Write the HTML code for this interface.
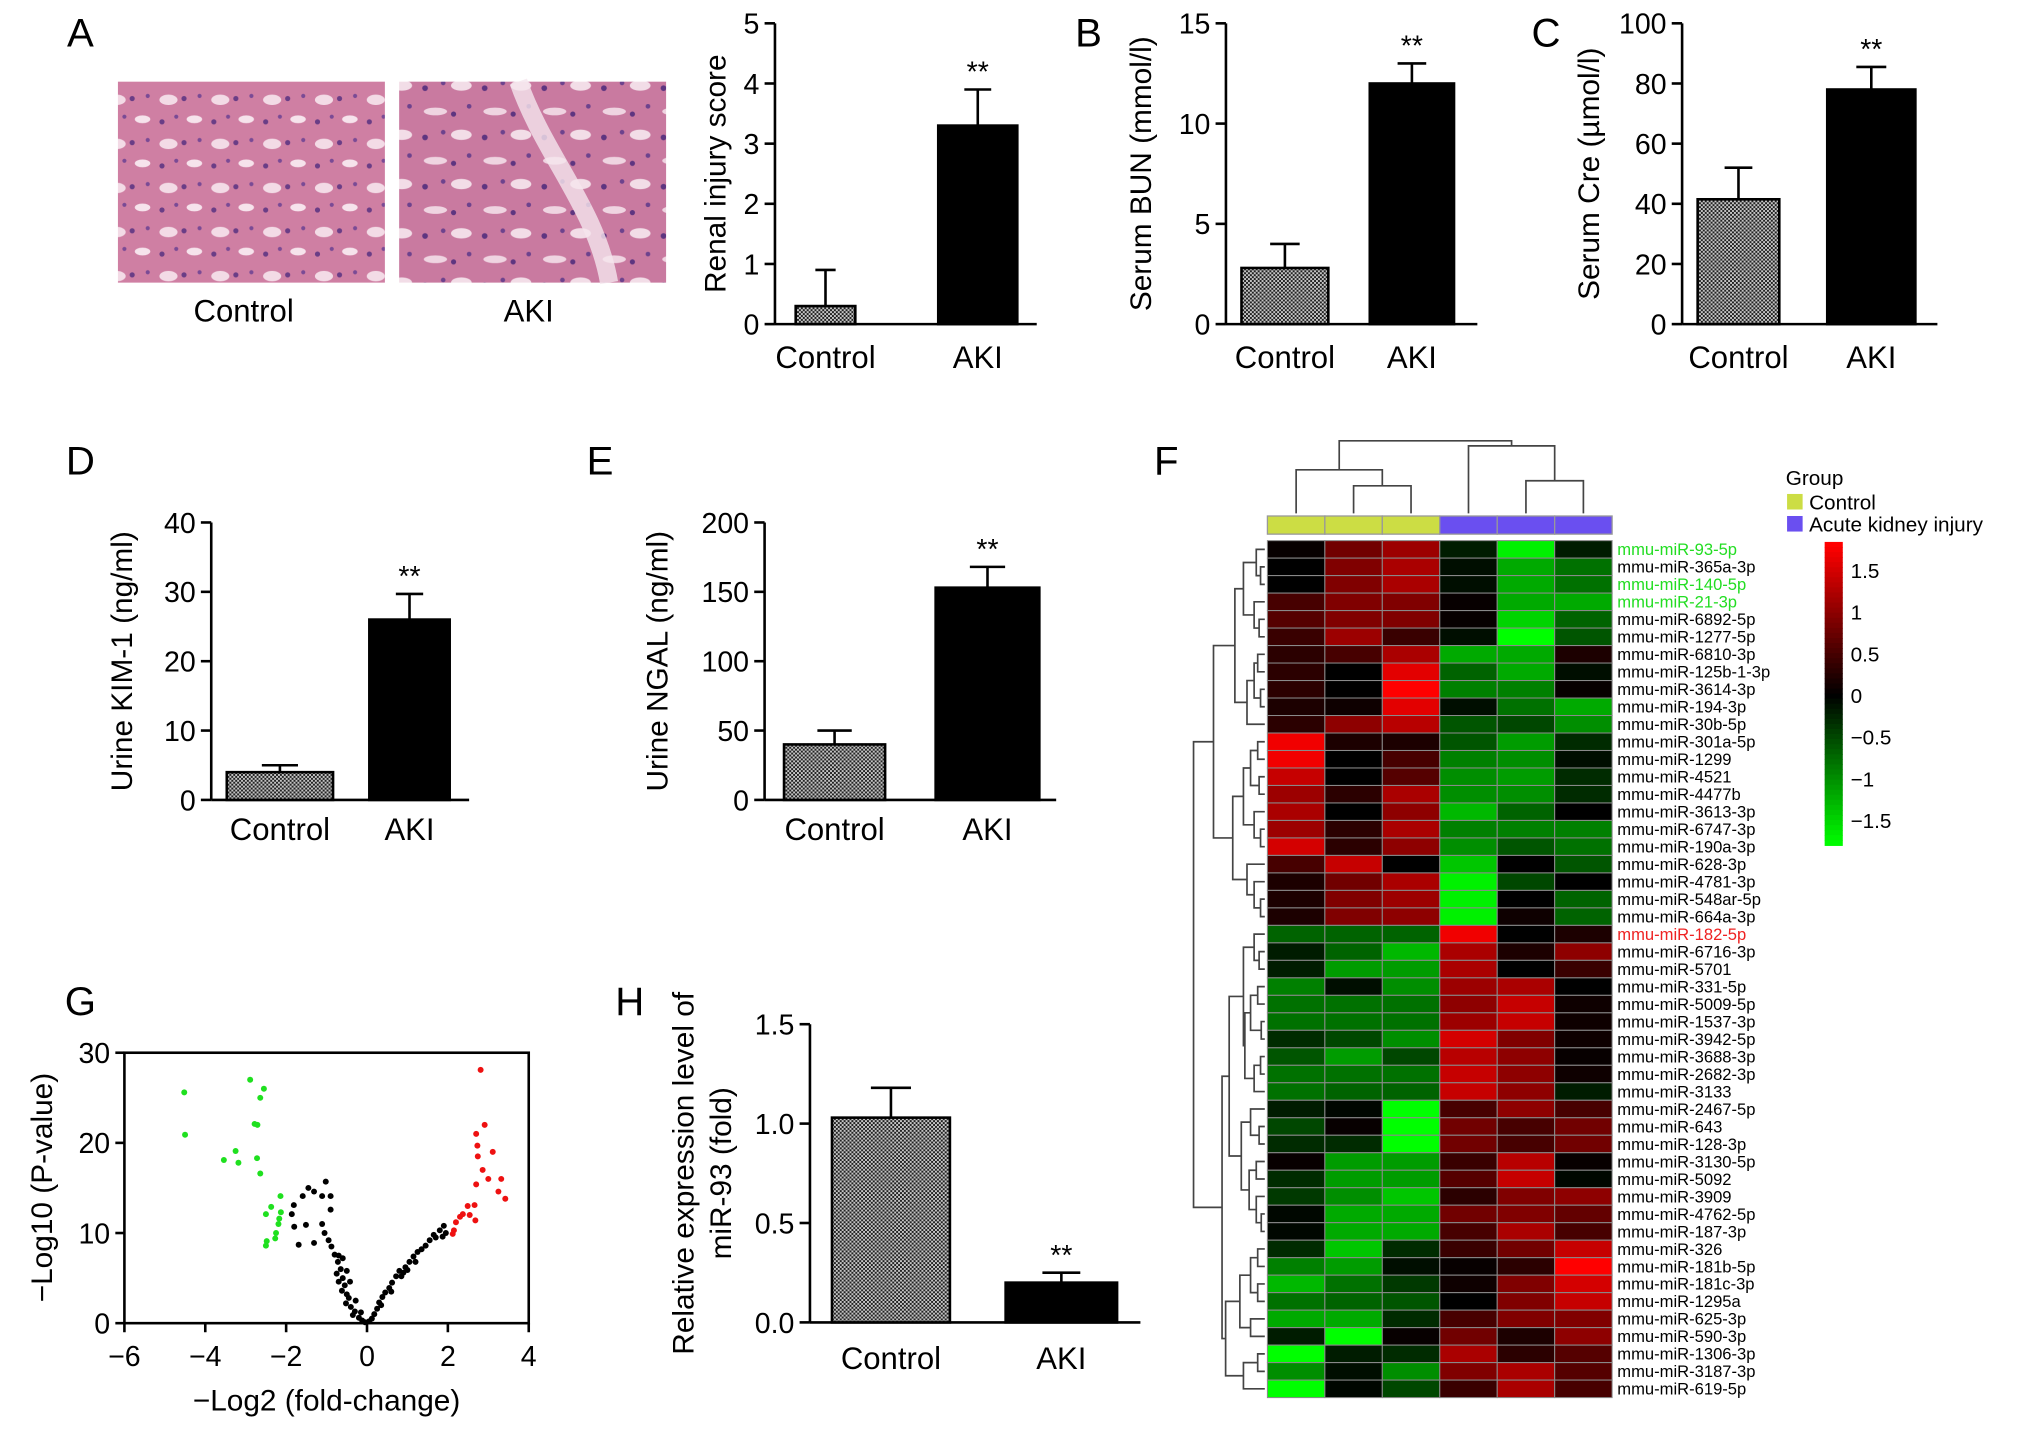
<!DOCTYPE html>
<html><head><meta charset="utf-8">
<style>
html,body{margin:0;padding:0;background:#fff;}
svg{display:block;font-family:"Liberation Sans",Arial,sans-serif;}
</style></head>
<body>
<svg id="fig" xmlns="http://www.w3.org/2000/svg" width="2032" height="1430" viewBox="0 0 1568 1103" preserveAspectRatio="none">
<defs>
<pattern id="hatch" width="3" height="3" patternUnits="userSpaceOnUse">
<rect width="3" height="3" fill="#c4c4c4"/>
<rect width="1.5" height="1.5" fill="#222"/>
<rect x="1.5" y="1.5" width="1.5" height="1.5" fill="#222"/>
</pattern>
<pattern id="tissue1" width="40" height="34" patternUnits="userSpaceOnUse">
<rect width="40" height="34" fill="#cf7fa3"/>
<ellipse cx="10" cy="9" rx="7" ry="4" fill="#f3dbe6"/>
<ellipse cx="30" cy="24" rx="6" ry="3" fill="#f6e3ec"/>
<circle cx="22" cy="8" r="2" fill="#6a3d86"/>
<circle cx="5" cy="26" r="2" fill="#6a3d86"/>
<circle cx="34" cy="6" r="1.6" fill="#7a4a95"/>
<circle cx="16" cy="22" r="1.6" fill="#7a4a95"/>
</pattern>
<pattern id="tissue2" width="46" height="38" patternUnits="userSpaceOnUse">
<rect width="46" height="38" fill="#c97aa0"/>
<ellipse cx="14" cy="10" rx="9" ry="3" fill="#efd4e1"/>
<ellipse cx="34" cy="28" rx="8" ry="4" fill="#f2dde7"/>
<circle cx="6" cy="30" r="2.2" fill="#5e3580"/>
<circle cx="28" cy="12" r="2" fill="#5e3580"/>
<circle cx="40" cy="6" r="1.8" fill="#6d428d"/>
<circle cx="20" cy="26" r="1.8" fill="#6d428d"/>
</pattern>
</defs>
<g id="root"></g>
</svg>
<script>
// ---------- data ----------
const barCategories = ["Control","AKI"];
const aValues = [0.3, 3.3];
const aErrors = [0.6, 0.6];
const aTicks = [0,1,2,3,4,5];
const bValues = [2.8, 12.0];
const bErrors = [1.2, 1.0];
const bTicks = [0,5,10,15];
const cValues = [41.5, 78];
const cErrors = [10.5, 7.5];
const cTicks = [0,20,40,60,80,100];
const dValues = [4, 26];
const dErrors = [1, 3.7];
const dTicks = [0,10,20,30,40];
const eValues = [40, 153];
const eErrors = [10, 15];
const eTicks = [0,50,100,150,200];
const hValues = [1.03, 0.2];
const hErrors = [0.15, 0.05];
const hTicks = [0.0,0.5,1.0,1.5];
const hTickLabels = ["0.0","0.5","1.0","1.5"];

const volcanoXTicks = [-6,-4,-2,0,2,4];
const volcanoYTicks = [0,10,20,30];
const greenX = [-4.52,-4.5,-2.89,-2.55,-2.64,-2.78,-2.71,-3.25,-3.54,-3.18,-2.72,-2.64,-2.14,-2.37,-2.5,-2.13,-2.17,-2.19,-2.25,-2.27,-2.48,-2.5];
const greenY = [25.6,20.9,27.0,26.0,25.0,22.1,22.0,19.1,18.1,17.8,18.3,16.6,14.1,12.9,12.1,12.3,11.6,11.0,10.0,9.4,9.1,8.6];
const redX = [2.81,2.91,2.70,2.73,2.74,3.11,2.86,3.0,3.32,2.70,3.25,3.42,2.49,2.66,2.37,2.54,2.68,2.2,2.15,2.12,2.3];
const redY = [28.1,22.0,21.0,19.7,18.5,19.0,17.0,16.0,16.0,15.4,14.6,13.8,13.0,13.1,12.1,12.0,11.4,11.2,10.3,9.9,11.8];
const blackX = [-1.02,-1.45,-1.31,-1.59,-1.11,-0.9,-1.81,-0.9,-1.86,-1.8,-1.51,-1.11,-1.69,-1.31,
 -1.05,-0.95,-0.88,-0.8,-0.7,-0.72,-0.65,-0.75,-0.6,-0.7,-0.55,-0.62,-0.5,-0.45,-0.52,-0.4,-0.3,-0.35,-0.2,-0.12,-0.05,-0.6,-0.5,-0.42,-0.28,-0.15,
 0.05,0.12,0.18,0.25,0.3,0.38,0.45,0.55,0.62,0.72,0.8,0.85,0.95,1.05,1.15,1.25,1.35,1.45,1.55,1.65,1.8,1.9,1.7,1.2,0.6,0.35,0.9,1.0,1.87,1.95];
const blackY = [15.7,15.0,14.6,14.1,14.1,14.1,13.1,12.6,12.1,10.7,10.9,11.0,8.7,8.9,
 10.0,9.2,8.5,7.6,7.5,6.8,6.0,5.5,5.0,4.6,4.2,3.6,3.2,2.8,2.2,1.8,1.3,0.9,0.6,0.3,0.1,7.2,5.8,4.6,2.5,1.2,
 0.2,0.5,1.0,1.6,2.3,2.9,3.4,3.9,4.5,5.2,5.8,5.2,6.2,6.8,7.4,7.9,8.2,8.6,9.2,9.8,10.3,10.8,9.5,6.8,3.5,2.0,5.6,5.9,9.6,10.0];

const heatLabels = ["mmu-miR-93-5p","mmu-miR-365a-3p","mmu-miR-140-5p","mmu-miR-21-3p","mmu-miR-6892-5p","mmu-miR-1277-5p","mmu-miR-6810-3p","mmu-miR-125b-1-3p","mmu-miR-3614-3p","mmu-miR-194-3p","mmu-miR-30b-5p","mmu-miR-301a-5p","mmu-miR-1299","mmu-miR-4521","mmu-miR-4477b","mmu-miR-3613-3p","mmu-miR-6747-3p","mmu-miR-190a-3p","mmu-miR-628-3p","mmu-miR-4781-3p","mmu-miR-548ar-5p","mmu-miR-664a-3p","mmu-miR-182-5p","mmu-miR-6716-3p","mmu-miR-5701","mmu-miR-331-5p","mmu-miR-5009-5p","mmu-miR-1537-3p","mmu-miR-3942-5p","mmu-miR-3688-3p","mmu-miR-2682-3p","mmu-miR-3133","mmu-miR-2467-5p","mmu-miR-643","mmu-miR-128-3p","mmu-miR-3130-5p","mmu-miR-5092","mmu-miR-3909","mmu-miR-4762-5p","mmu-miR-187-3p","mmu-miR-326","mmu-miR-181b-5p","mmu-miR-181c-3p","mmu-miR-1295a","mmu-miR-625-3p","mmu-miR-590-3p","mmu-miR-1306-3p","mmu-miR-3187-3p","mmu-miR-619-5p"];
const heatGroups = ["control","control","control","aki","aki","aki"];
const heatValues = [
[0.05,0.8,1.1,-0.2,-1.7,-0.2],[0.0,0.9,1.2,-0.1,-1.2,-0.8],[0.0,0.9,1.2,-0.1,-1.2,-0.8],[0.5,0.9,0.9,0.05,-1.2,-1.2],
[0.6,0.9,0.9,0.05,-1.5,-0.7],[0.4,1.1,0.4,-0.1,-1.8,-0.6],[0.3,0.5,1.2,-1.2,-1.2,0.2],[0.3,0.0,1.6,-0.7,-1.2,-0.1],
[0.3,0.0,1.8,-0.9,-0.9,0.05],[0.2,0.1,1.6,-0.1,-0.8,-1.2],[0.3,1.0,1.3,-0.6,-0.5,-1.0],[1.7,0.2,0.2,-0.6,-1.1,-0.3],
[1.7,0.0,0.5,-0.9,-1.0,-0.1],[1.4,0.0,0.6,-1.0,-1.1,-0.3],[1.1,0.3,1.2,-1.0,-1.0,-0.3],[1.2,0.0,1.0,-1.3,-0.7,0.0],
[1.1,0.3,1.2,-0.9,-0.9,-0.9],[1.5,0.3,1.0,-1.0,-0.6,-0.8],[0.5,1.4,0.0,-1.4,0.0,-0.6],[0.2,0.8,1.2,-1.7,-0.5,0.0],
[0.2,0.9,1.1,-1.7,0.0,-0.7],[0.2,0.9,1.0,-1.7,0.1,-0.7],[-0.7,-0.7,-0.7,1.7,0.0,0.2],[-0.2,-0.7,-1.3,1.2,0.2,1.0],
[-0.2,-1.1,-1.1,1.2,0.0,0.4],[-0.9,-0.1,-1.0,1.1,1.2,0.0],[-0.8,-0.8,-0.8,1.0,1.4,0.1],[-0.8,-0.8,-0.8,1.1,1.4,0.1],
[-0.3,-0.5,-1.0,1.5,0.9,0.1],[-0.6,-1.1,-0.5,1.3,1.0,0.05],[-0.8,-0.8,-0.8,1.4,1.0,0.1],[-0.8,-0.7,-0.7,1.4,1.0,-0.2],
[-0.2,-0.05,-1.8,0.5,1.0,0.5],[-0.5,0.05,-1.8,0.8,0.5,0.8],[-0.3,-0.3,-1.8,0.8,0.5,0.8],[0.05,-1.1,-1.1,0.4,1.3,0.05],
[-0.3,-1.1,-1.1,0.6,1.4,-0.05],[-0.4,-1.0,-1.4,0.3,0.9,1.0],[-0.05,-1.2,-1.2,0.8,0.9,0.7],[-0.05,-1.2,-1.2,0.5,1.2,0.5],
[-0.3,-1.4,-0.3,0.4,0.8,1.4],[-0.9,-1.1,-0.1,0.05,0.3,1.8],[-1.3,-0.8,-0.4,0.1,0.9,1.5],[-0.8,-0.7,-0.6,0.0,0.9,1.4],
[-1.2,-1.2,-0.3,0.5,0.9,0.9],[-0.2,-1.8,0.05,0.8,0.2,1.0],[-1.8,-0.2,-0.3,1.2,0.3,0.6],[-1.0,-0.1,-1.0,0.9,1.2,0.6],
[-1.8,-0.05,-0.5,0.4,1.2,0.5]];
const greenLabelRows = [0,2,3];
const redLabelRows = [22];
const colorbarTicks = [1.5,1,0.5,0,-0.5,-1,-1.5];
const colorbarTickLabels = ["1.5","1","0.5","0","\u22120.5","\u22121","\u22121.5"];

// ---------- helpers ----------
const NS = "http://www.w3.org/2000/svg";
const root = document.getElementById("root");
function el(tag, attrs, parent, text){
  const e = document.createElementNS(NS, tag);
  for (const k in attrs) e.setAttribute(k, attrs[k]);
  if (text !== undefined) e.textContent = text;
  (parent || root).appendChild(e);
  return e;
}
function grp(name){
  const g = el("g", {});
  
  
  return g;
}
function label(parent, x, y, txt, size, name, anchor, extra){
  const t = el("text", Object.assign({x:x, y:y, "font-size":size, "text-anchor":anchor||"middle", fill:"#000"}, extra||{}), parent, txt);
  
  
  return t;
}

// panel letters
[["A",62,36],["B",840,36],["C",1193,36],["D",62,366],["E",463,366],["F",900,366],["G",62,783],["H",486,783]].forEach(p=>{
  const t = label(root, p[1], p[2], p[0], 31, "panel-letter-"+p[0].toLowerCase());
});

// histology images
(function(){
  const g = grp("histology-images");
  const r1 = el("rect",{x:91,y:63,width:206,height:155,fill:"url(#tissue1)"},g);
  
  
  const r2 = el("rect",{x:308,y:63,width:206,height:155,fill:"url(#tissue2)"},g);
  
  
  el("path",{d:"M400 63 C 420 120, 460 160, 470 218",stroke:"#f5e6ee","stroke-width":14,fill:"none",opacity:0.8},g);
  label(g,188,248,"Control",24,"control-image-label");
  label(g,408,248,"AKI",24,"aki-image-label");
})();

// bar chart
function barChart(cfg, values, errors, ticks, tickLabels){
  const g = grp(cfg.name);
  const max = ticks[ticks.length-1];
  const yS = v => cfg.bottom - (v/max)*(cfg.bottom-cfg.top);
  const ax = el("line",{x1:cfg.ax,y1:cfg.top,x2:cfg.ax,y2:cfg.bottom,stroke:"#000","stroke-width":2},g);
  
  
  const bx = el("line",{x1:cfg.ax,y1:cfg.bottom,x2:cfg.axEnd,y2:cfg.bottom,stroke:"#000","stroke-width":2},g);
  
  
  ticks.forEach((t,i)=>{
    const y = yS(t);
    el("line",{x1:cfg.ax-8,y1:y,x2:cfg.ax,y2:y,stroke:"#000","stroke-width":2},g);
    label(g,cfg.ax-12,y+8,tickLabels?tickLabels[i]:String(t),22,"y-tick-label","end");
  });
  values.forEach((v,i)=>{
    const x0 = cfg.bars[i][0], x1 = cfg.bars[i][1];
    const cx = (x0+x1)/2;
    const top = yS(v), etop = yS(v+errors[i]);
    const cap = (x1-x0)*0.17;
    el("line",{x1:cx,y1:top,x2:cx,y2:etop,stroke:"#000","stroke-width":2},g);
    el("line",{x1:cx-cap,y1:etop,x2:cx+cap,y2:etop,stroke:"#000","stroke-width":2},g);
    const b = el("rect",{x:x0,y:top,width:x1-x0,height:cfg.bottom-top,fill:i===0?"url(#hatch)":"#000",stroke:"#000","stroke-width":2},g);
    
    
    label(g,cx,cfg.labelY,barCategories[i],24,"x-tick-label");
    if (cfg.star===i) label(g,cx,etop-6,"**",22,"significance-marker");
  });
  const tl = cfg.titleLines;
  tl.forEach((line,k)=>{
    const tx = cfg.titleX + k*29, ty = cfg.titleY;
    label(g,tx,ty,line,23,"y-axis-title","middle",{transform:"rotate(-90 "+tx+" "+ty+")"});
  });
}
barChart({name:"renal-injury-chart",ax:598,axEnd:800,top:18,bottom:250,bars:[[614,660],[724,785]],labelY:284,star:1,titleX:560,titleY:134,titleLines:["Renal injury score"]},aValues,aErrors,aTicks);
barChart({name:"serum-bun-chart",ax:946,axEnd:1140,top:18,bottom:250,bars:[[958,1025],[1057,1122]],labelY:284,star:1,titleX:888,titleY:134,titleLines:["Serum BUN (mmol/l)"]},bValues,bErrors,bTicks);
barChart({name:"serum-cre-chart",ax:1298,axEnd:1495,top:18,bottom:250,bars:[[1310,1373],[1410,1478]],labelY:284,star:1,titleX:1234,titleY:134,titleLines:["Serum Cre (\u00b5mol/l)"]},cValues,cErrors,cTicks);
barChart({name:"urine-kim1-chart",ax:163,axEnd:362,top:403,bottom:617,bars:[[175,257],[285,347]],labelY:648,star:1,titleX:102,titleY:510,titleLines:["Urine KIM-1 (ng/ml)"]},dValues,dErrors,dTicks);
barChart({name:"urine-ngal-chart",ax:590,axEnd:815,top:403,bottom:617,bars:[[605,683],[722,802]],labelY:648,star:1,titleX:515,titleY:510,titleLines:["Urine NGAL (ng/ml)"]},eValues,eErrors,eTicks);
barChart({name:"mir93-expression-chart",ax:625,axEnd:880,top:790,bottom:1020,bars:[[642,733],[776,862]],labelY:1056,star:1,titleX:535,titleY:905,titleLines:["Relative expression level of","miR-93 (fold)"]},hValues,hErrors,hTicks,hTickLabels);

// volcano
(function(){
  const g = grp("volcano-plot");
  const L=96,R=408,T=812,B=1020.6;
  const xS = v => L + (v+6)/10*(R-L);
  const yS = v => B - v/30*(B-T);
  const frame = el("rect",{x:L,y:T,width:R-L,height:B-T,fill:"none",stroke:"#000","stroke-width":2},g);
  
  
  volcanoXTicks.forEach(t=>{
    el("line",{x1:xS(t),y1:B,x2:xS(t),y2:B+7,stroke:"#000","stroke-width":2},g);
    label(g,xS(t),B+33,t<0?"\u2212"+Math.abs(t):String(t),22,"x-tick-label");
  });
  volcanoYTicks.forEach(t=>{
    el("line",{x1:L-7,y1:yS(t),x2:L,y2:yS(t),stroke:"#000","stroke-width":2},g);
    label(g,L-11,yS(t)+8,String(t),22,"y-tick-label","end");
  });
  function pts(xs,ys,col,name){
    const pg = el("g",{},g);
    
    
    xs.forEach((x,i)=>{ el("circle",{cx:xS(x),cy:yS(ys[i]),r:2.3,fill:col},pg); });
  }
  pts(blackX,blackY,"#000","nonsignificant-points");
  pts(greenX,greenY,"#1fe01f","downregulated-points");
  pts(redX,redY,"#ee1111","upregulated-points");
  label(g,252,1088,"\u2212Log2 (fold-change)",23,"x-axis-title");
  label(g,40,916,"\u2212Log10 (P-value)",23,"y-axis-title","middle",{transform:"rotate(-90 40 916)"});
})();

// heatmap
(function(){
  const g = grp("heatmap");
  const X0=978, X1=1244, Y0=417, Y1=1078;
  const nC = 6, nR = heatLabels.length;
  const cw=(X1-X0)/nC, rh=(Y1-Y0)/nR;
  function col(v){
    const a = Math.min(1,Math.abs(v)/1.8);
    const c = Math.round(a*255);
    return v>=0 ? "rgb("+c+",0,0)" : "rgb(0,"+c+",0)";
  }
  heatGroups.forEach((gr,j)=>{
    const r = el("rect",{x:X0+j*cw,y:398,width:cw,height:14,fill:gr==="control"?"#ccdd44":"#6a4ff0",stroke:"#999","stroke-width":1},g);
    
    
  });
  heatValues.forEach((row,i)=>{
    row.forEach((v,j)=>{
      const r = el("rect",{x:X0+j*cw,y:Y0+i*rh,width:cw,height:rh,fill:col(v),stroke:"#8a8a8a","stroke-width":0.8},g);
      
      
    });
    let fill = "#000";
    if (greenLabelRows.indexOf(i)>=0) fill="#22dd22";
    if (redLabelRows.indexOf(i)>=0) fill="#ee2222";
    const t = el("text",{x:X1+4,y:Y0+(i+0.5)*rh+4.5,"font-size":12.8,fill:fill},g,heatLabels[i]);
    
    
  });
  // row dendrogram
  const N=(h,a,b)=>({h:h,c:[a,b]});
  const rowTree = N(1,
    N(.72,
      N(.42, N(.3, N(.12,0,N(.06,1,2)), N(.15,3,N(.08,4,5))), N(.25, N(.15,N(.1,6,7),N(.06,8,9)), 10)),
      N(.45, N(.3, N(.2,N(.1,11,12),N(.08,13,14)), N(.15,15,N(.06,16,17))), N(.25,18,N(.15,19,N(.06,20,21))))),
    N(.6,
      N(.5, N(.3, N(.15,22,N(.08,23,24)), N(.28, N(.2,N(.1,25,26),N(.05,27,28)), N(.15,N(.06,29,30),31))),
            N(.33, N(.2,32,N(.08,33,34)), N(.22, N(.12,35,36), N(.12,37,N(.05,38,39))))),
      N(.55, N(.35, N(.2,N(.1,40,41),N(.1,42,43)), N(.2,44,45)), N(.3,N(.1,46,47),48))));
  const dg = el("g",{stroke:"#444","stroke-width":1.3,fill:"none"},g);
  
  
  const hx = h => 976 - h*55;
  function drawRow(n){
    if (typeof n === "number") return {p:Y0+(n+0.5)*rh, h:0};
    const a = drawRow(n.c[0]), b = drawRow(n.c[1]);
    const x = hx(n.h);
    el("path",{d:"M"+hx(a.h)+" "+a.p+"H"+x+"V"+b.p+"H"+hx(b.h)},dg);
    return {p:(a.p+b.p)/2, h:n.h};
  }
  drawRow(rowTree);
  // column dendrogram
  const colTree = N(1, N(.6,0,N(.38,1,2)), N(.93,3,N(.45,4,5)));
  const cg = el("g",{stroke:"#444","stroke-width":1.3,fill:"none"},g);
  
  
  const hy = h => 396 - h*56;
  function drawCol(n){
    if (typeof n === "number") return {p:X0+(n+0.5)*cw, h:0};
    const a = drawCol(n.c[0]), b = drawCol(n.c[1]);
    const y = hy(n.h);
    el("path",{d:"M"+a.p+" "+hy(a.h)+"V"+y+"H"+b.p+"V"+hy(b.h)},cg);
    return {p:(a.p+b.p)/2, h:n.h};
  }
  drawCol(colTree);
  // legend
  const lg = grp("group-legend");
  label(lg,1378,374,"Group",16,"legend-title","start");
  const s1 = el("rect",{x:1379,y:381,width:12,height:12,fill:"#ccdd44"},lg);
  
  
  label(lg,1396,393,"Control",16,"legend-entry-control","start");
  const s2 = el("rect",{x:1379,y:398,width:12,height:12,fill:"#6a4ff0"},lg);
  
  
  label(lg,1396,410,"Acute kidney injury",16,"legend-entry-aki","start");
  // colour bar
  const cb = grp("color-scale-bar");
  const CT=418, CB=652, cmax=1.84, cmin=-1.8;
  const cy = v => CT + (cmax-v)/(cmax-cmin)*(CB-CT);
  const steps = 60;
  for (let k=0;k<steps;k++){
    const v0 = cmax - k*(cmax-cmin)/steps;
    const v1 = cmax - (k+1)*(cmax-cmin)/steps;
    el("rect",{x:1408,y:cy(v0),width:14,height:cy(v1)-cy(v0)+0.5,fill:col((v0+v1)/2)},cb);
  }
  colorbarTicks.forEach((t,i)=>{
    label(cb,1428,cy(t)+6,colorbarTickLabels[i],16,"color-scale-tick","start");
  });
})();
</script>
</body></html>
